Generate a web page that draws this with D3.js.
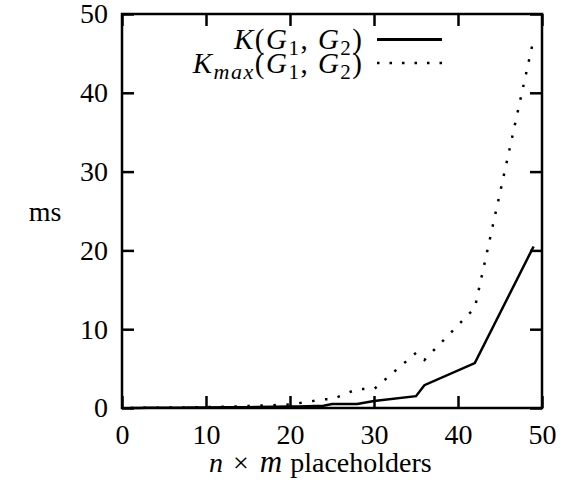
<!DOCTYPE html>
<html>
<head>
<meta charset="utf-8">
<script src="https://cdn.jsdelivr.net/npm/d3@7"></script>
<style>
  body { margin: 0; background: #fff; }
  svg { display: block; }
  text { font-family: "Liberation Serif", "Times New Roman", serif; fill: #000; }
</style>
</head>
<body>
<svg id="chart" width="565" height="490"></svg>
<script>
// ---- data ----
const xValues = [1, 2, 3, 4, 5, 6, 7, 8, 9, 10, 12, 14, 15, 16, 18, 20, 21, 24, 25, 28, 30, 35, 36, 42, 49];
const kValues = [0.01, 0.01, 0.02, 0.02, 0.03, 0.03, 0.04, 0.05, 0.05, 0.06, 0.08, 0.1, 0.1, 0.12, 0.15, 0.2, 0.2, 0.3, 0.5, 0.5, 0.9, 1.5, 2.9, 5.7, 20.5];
const kmaxValues = [0.01, 0.02, 0.03, 0.04, 0.05, 0.06, 0.07, 0.08, 0.1, 0.12, 0.15, 0.2, 0.25, 0.3, 0.35, 0.45, 0.6, 1.1, 1.1, 2.4, 2.4, 7.0, 6.1, 12.7, 46.8];
const xTicks = [0, 10, 20, 30, 40, 50];
const yTicks = [0, 10, 20, 30, 40, 50];

const svg = d3.select("#chart");
const x = d3.scaleLinear().domain([0, 50]).range([122, 542]);
const y = d3.scaleLinear().domain([0, 50]).range([408, 14]);
const FS = 28, TL = 12, SW = 2.5;

function styleAxis(g) {
  g.selectAll("path.domain").remove();
  g.selectAll(".tick line").attr("stroke", "#000").attr("stroke-width", SW);
  g.selectAll(".tick text").attr("font-size", FS).attr("font-family", "Liberation Serif, serif");
}

svg.append("g").attr("transform", `translate(0,${y(0)})`)
  .call(d3.axisBottom(x).tickValues(xTicks).tickSize(-TL).tickPadding(16).tickFormat(d3.format("d")))
  .call(styleAxis);
svg.append("g").attr("transform", `translate(0,${y(50)})`)
  .call(d3.axisTop(x).tickValues(xTicks).tickSize(-TL).tickFormat(""))
  .call(styleAxis);
svg.append("g").attr("transform", `translate(${x(0)},0)`)
  .call(d3.axisLeft(y).tickValues(yTicks).tickSize(-TL).tickPadding(14).tickFormat(d3.format("d")))
  .call(styleAxis);
svg.append("g").attr("transform", `translate(${x(50)},0)`)
  .call(d3.axisRight(y).tickValues(yTicks).tickSize(-TL).tickFormat(""))
  .call(styleAxis);

// frame
svg.append("rect")
  .attr("x", x(0)).attr("y", y(50))
  .attr("width", x(50) - x(0)).attr("height", y(0) - y(50))
  .attr("fill", "none").attr("stroke", "#000").attr("stroke-width", SW);

// series
const kData = xValues.map((v, i) => [v, kValues[i]]);
const kmaxData = xValues.map((v, i) => [v, kmaxValues[i]]);
const line = d3.line().x(d => x(d[0])).y(d => y(d[1]));

svg.append("path").datum(kData).attr("d", line)
  .attr("fill", "none").attr("stroke", "#000").attr("stroke-width", SW).attr("stroke-linejoin", "miter");
svg.append("path").datum(kmaxData).attr("d", line)
  .attr("fill", "none").attr("stroke", "#000").attr("stroke-width", SW)
  .attr("stroke-dasharray", "2.5,10.5");

// axis titles
svg.append("text").attr("x", 45).attr("y", 221).attr("text-anchor", "middle")
  .attr("font-size", FS).text("ms");

const xt = svg.append("text").attr("x", 209).attr("y", 472).attr("text-anchor", "start").attr("font-size", FS);
xt.append("tspan").attr("font-style", "italic").text("n");
xt.append("tspan").attr("dx", 10).text("×");
xt.append("tspan").attr("dx", 11).attr("font-style", "italic").attr("font-size", 31).text("m");
xt.append("tspan").attr("dx", 8).text("placeholders");

// legend
function legendLabel(yBase, sub) {
  const t = svg.append("text").attr("x", 362).attr("y", yBase).attr("text-anchor", "end")
    .attr("font-size", 29).attr("letter-spacing", 1.5);
  t.append("tspan").attr("font-style", "italic").text("K");
  if (sub) t.append("tspan").attr("font-style", "italic").attr("font-size", 22).attr("dy", 6).text(sub);
  t.append("tspan").attr("dy", sub ? -6 : 0).text("(");
  t.append("tspan").attr("font-style", "italic").text("G");
  t.append("tspan").attr("font-size", 21).attr("dy", 6).text("1");
  t.append("tspan").attr("dy", -6).text(", ");
  t.append("tspan").attr("font-style", "italic").text("G");
  t.append("tspan").attr("font-size", 21).attr("dy", 6).text("2");
  t.append("tspan").attr("dy", -6).attr("letter-spacing", 0).text(")");
}
legendLabel(49, null);
legendLabel(73, "max");

svg.append("line").attr("x1", 377).attr("x2", 442).attr("y1", 39.5).attr("y2", 39.5)
  .attr("stroke", "#000").attr("stroke-width", 3);
svg.append("line").attr("x1", 377).attr("x2", 442).attr("y1", 63).attr("y2", 63)
  .attr("stroke", "#000").attr("stroke-width", SW).attr("stroke-dasharray", "2.5,10");
</script>
</body>
</html>
